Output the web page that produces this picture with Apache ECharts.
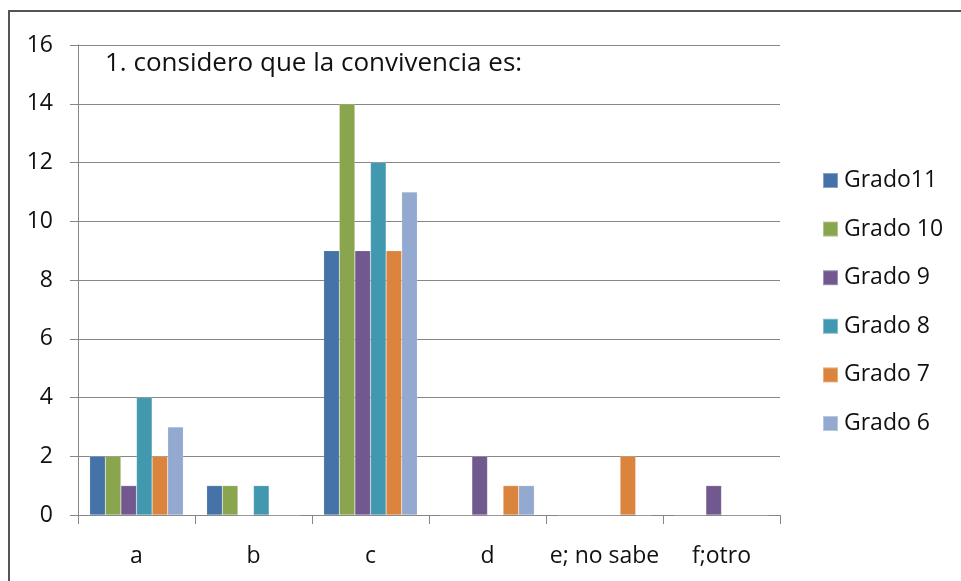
<!DOCTYPE html>
<html><head><meta charset="utf-8">
<script src="https://cdn.jsdelivr.net/npm/echarts@6/dist/echarts.min.js"></script>
<style>html,body{margin:0;padding:0;background:#fff}#c{width:961px;height:581px}</style>
</head><body><div id="c"></div>
<script>
var categories = ['a', 'b', 'c', 'd', 'e; no sabe', 'f;otro'];
var seriesNames = ['Grado11', 'Grado 10', 'Grado 9', 'Grado 8', 'Grado 7', 'Grado 6'];
var grado11 = [2, 1, 9, 0, 0, 0];
var grado10 = [2, 1, 14, 0, 0, 0];
var grado9  = [1, 0, 9, 2, 0, 1];
var grado8  = [4, 1, 12, 0, 0, 0];
var grado7  = [2, 0, 9, 1, 2, 0];
var grado6  = [3, 0, 11, 1, 0, 0];
var titleText = '1. considero que la convivencia es:';
var colors = ['#4572a7', '#89a54e', '#71588f', '#4198af', '#db843d', '#93a9cf'];

var allData = [grado11, grado10, grado9, grado8, grado7, grado6];
var font = '"Open Sans", Lato, sans-serif';
var chart = echarts.init(document.getElementById('c'), null, {renderer: 'canvas'});
chart.setOption({
  animation: false,
  color: colors,
  textStyle: {fontFamily: font},
  graphic: [
    {type: 'rect', shape: {x: 9, y: 11, width: 960, height: 600}, style: {fill: 'none', stroke: '#555', lineWidth: 2}},
    {type: 'text', left: 105, top: 51, style: {text: titleText, font: '26px ' + font, fill: '#111'}}
  ],
  grid: {left: 78, top: 45, width: 702, height: 470, containLabel: false},
  legend: {
    orient: 'vertical', left: 817, top: 164, itemGap: 25.6, itemWidth: 15, itemHeight: 15,
    icon: 'rect',
    textStyle: {fontSize: 23, color: '#111', fontFamily: font, padding: [0, 0, 0, 1]},
    data: seriesNames
  },
  xAxis: {
    type: 'category', data: categories,
    axisLine: {lineStyle: {color: '#868686', width: 1}},
    axisTick: {show: true, length: 9, interval: 0, lineStyle: {color: '#868686'}},
    axisLabel: {fontSize: 23, color: '#111', margin: 30, interval: 0, fontFamily: font}
  },
  yAxis: {
    type: 'value', min: 0, max: 16, interval: 2,
    axisLine: {show: true, lineStyle: {color: '#868686'}},
    axisTick: {show: true, length: 8, lineStyle: {color: '#868686'}},
    splitLine: {lineStyle: {color: '#868686', width: 1}},
    axisLabel: {fontSize: 23, color: '#111', margin: 25, fontFamily: font}
  },
  series: seriesNames.map(function (n, i) {
    return {name: n, type: 'bar', data: allData[i], barGap: '0%', barCategoryGap: '20%',
      itemStyle: {borderColor: 'rgba(255,255,255,0.35)', borderWidth: 0.5}};
  })
});
</script></body></html>
